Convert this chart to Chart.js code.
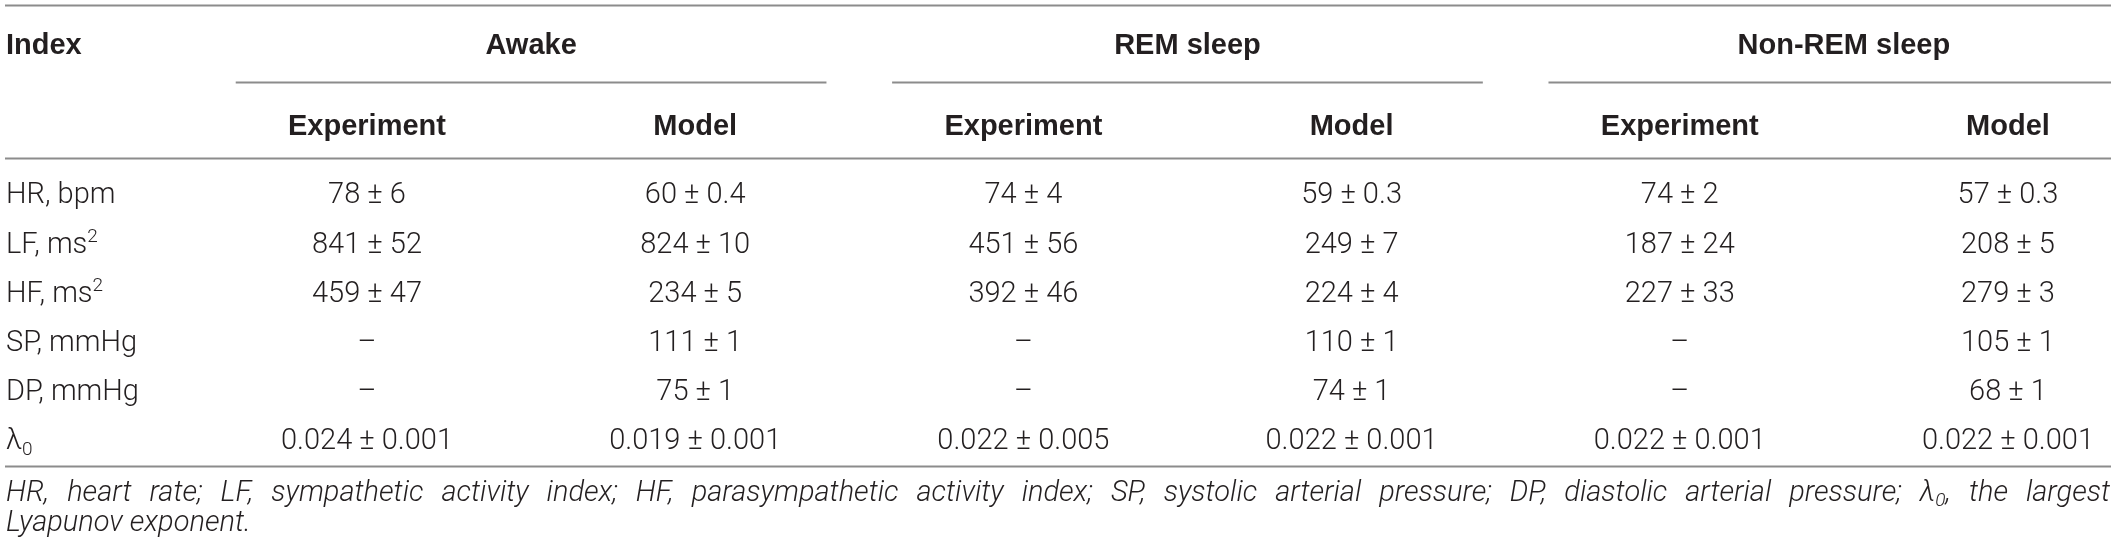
<!DOCTYPE html>
<html>
<head>
<meta charset="utf-8">
<script src="https://cdn.jsdelivr.net/npm/chart.js@4.4.1/dist/chart.umd.min.js"></script>
<style>
  html, body { margin: 0; padding: 0; background: #fff; }
  #wrap { width: 2117px; height: 552px; }
</style>
</head>
<body>
<div id="wrap"><canvas id="tableChart"></canvas></div>
<script>
// table content
const states = ["Awake", "REM sleep", "Non-REM sleep"];
const sources = ["Experiment", "Model"];
const indexLabels = ["HR, bpm", "LF, ms^2", "HF, ms^2", "SP, mmHg", "DP, mmHg", "λ_0"];

const awakeExpMean = [78, 841, 459, null, null, 0.024];
const awakeExpSd = [6, 52, 47, null, null, 0.001];
const awakeModelMean = [60, 824, 234, 111, 75, 0.019];
const awakeModelSd = [0.4, 10, 5, 1, 1, 0.001];
const remExpMean = [74, 451, 392, null, null, 0.022];
const remExpSd = [4, 56, 46, null, null, 0.005];
const remModelMean = [59, 249, 224, 110, 74, 0.022];
const remModelSd = [0.3, 7, 4, 1, 1, 0.001];
const nremExpMean = [74, 187, 227, null, null, 0.022];
const nremExpSd = [2, 24, 33, null, null, 0.001];
const nremModelMean = [57, 208, 279, 105, 68, 0.022];
const nremModelSd = [0.3, 5, 3, 1, 1, 0.001];

const footnoteLines = [
  "HR, heart rate; LF, sympathetic activity index; HF, parasympathetic activity index; SP, systolic arterial pressure; DP, diastolic arterial pressure; λ_0, the largest",
  "Lyapunov exponent.",
];

const columnMeans = [awakeExpMean, awakeModelMean, remExpMean, remModelMean, nremExpMean, nremModelMean];
const columnSds = [awakeExpSd, awakeModelSd, remExpSd, remModelSd, nremExpSd, nremModelSd];

// layout, in scale units (x: column number, y: row number)
const INDEX_X = -0.1;
const SUBRULE_HALF = 0.9;
const ROW_Y = {
  topRule: -3.82, group: -3.03, subRule: -2.256, source: -1.40,
  headRule: -0.711, bottomRule: 5.55, note1: 6.04, note2: 6.65,
};

const TEXT_COLOR = "#231f20";
const RULE_COLOR = "#8c8c8c";
const FAMILY = 'Roboto, "Liberation Sans", Arial, sans-serif';
const BOLD_FAMILY = '"Liberation Sans", Arial, sans-serif';
const SIZE = 29;
const NOTE_SIZE = 29;

function cellText(mean, sd) {
  if (mean === null) return "–";
  return mean + " ± " + sd;
}

// split "LF, ms^2" / "λ_0" into plain, sup and sub parts
function parseRich(str) {
  const parts = [];
  let buf = "";
  for (let i = 0; i < str.length; i++) {
    const c = str[i];
    if ((c === "^" || c === "_") && i + 1 < str.length) {
      if (buf) parts.push({ t: buf, k: "n" });
      buf = "";
      parts.push({ t: str[i + 1], k: c === "^" ? "sup" : "sub" });
      i++;
    } else {
      buf += c;
    }
  }
  if (buf) parts.push({ t: buf, k: "n" });
  return parts;
}

function fontFor(style, k, size) {
  const s = k === "n" ? size : Math.round(size * 0.66);
  return style.replace("{s}", s + "px");
}

function richWidth(ctx, str, style, size) {
  let w = 0;
  parseRich(str).forEach((p) => {
    ctx.font = fontFor(style, p.k, size);
    w += ctx.measureText(p.t).width;
  });
  return w;
}

function drawRich(ctx, str, x, y, align, style, size) {
  const w = richWidth(ctx, str, style, size);
  let cx = align === "center" ? x - w / 2 : align === "right" ? x - w : x;
  const base = y + size * 0.36;
  ctx.textAlign = "left";
  ctx.textBaseline = "alphabetic";
  parseRich(str).forEach((p) => {
    ctx.font = fontFor(style, p.k, size);
    let dy = 0;
    if (p.k === "sup") dy = -size * 0.38;
    if (p.k === "sub") dy = size * 0.2;
    ctx.fillText(p.t, cx, base + dy);
    cx += ctx.measureText(p.t).width;
  });
}

const tablePlugin = {
  id: "tablePlugin",
  afterDraw(chart) {
    const ctx = chart.ctx;
    const x = chart.scales.x;
    const y = chart.scales.y;
    const area = chart.chartArea;
    const light = "300 {s} " + FAMILY;
    const bold = "bold {s} " + BOLD_FAMILY;
    const italic = "italic 300 {s} " + FAMILY;

    ctx.save();
    ctx.strokeStyle = RULE_COLOR;
    ctx.lineWidth = 1.8;
    const hRule = (x0, x1, v) => {
      const py = Math.round(y.getPixelForValue(v)) + 0.5;
      ctx.beginPath();
      ctx.moveTo(x0, py);
      ctx.lineTo(x1, py);
      ctx.stroke();
    };
    hRule(area.left, area.right, ROW_Y.topRule);
    hRule(area.left, area.right, ROW_Y.headRule);
    hRule(area.left, area.right, ROW_Y.bottomRule);
    states.forEach((s, g) => {
      const c = 1.5 + 2 * g;
      const x0 = Math.max(area.left, x.getPixelForValue(c - SUBRULE_HALF));
      const x1 = Math.min(area.right, x.getPixelForValue(c + SUBRULE_HALF));
      hRule(x0, x1, ROW_Y.subRule);
    });

    ctx.fillStyle = TEXT_COLOR;
    // header rows
    drawRich(ctx, "Index", x.getPixelForValue(INDEX_X), y.getPixelForValue(ROW_Y.group), "left", bold, SIZE);
    states.forEach((s, g) => {
      drawRich(ctx, s, x.getPixelForValue(1.5 + 2 * g), y.getPixelForValue(ROW_Y.group), "center", bold, SIZE);
      sources.forEach((src, j) => {
        drawRich(ctx, src, x.getPixelForValue(1 + 2 * g + j), y.getPixelForValue(ROW_Y.source), "center", bold, SIZE);
      });
    });

    // body rows
    indexLabels.forEach((lab, r) => {
      const py = y.getPixelForValue(r);
      drawRich(ctx, lab, x.getPixelForValue(INDEX_X), py, "left", light, SIZE);
      columnMeans.forEach((means, c) => {
        drawRich(ctx, cellText(means[r], columnSds[c][r]), x.getPixelForValue(c + 1), py, "center", light, SIZE);
      });
    });

    // footnote, first line justified
    footnoteLines.forEach((line, i) => {
      const py = y.getPixelForValue(i === 0 ? ROW_Y.note1 : ROW_Y.note2);
      const words = line.split(" ");
      const widths = words.map((w) => richWidth(ctx, w, italic, NOTE_SIZE));
      ctx.font = fontFor(italic, "n", NOTE_SIZE);
      let gap = ctx.measureText(" ").width;
      let squeeze = 1;
      if (i < footnoteLines.length - 1) {
        const total = widths.reduce((a, b) => a + b, 0);
        const avail = area.right - area.left - 2;
        gap = (avail - total) / (words.length - 1);
        if (gap < 4) {
          squeeze = avail / (total + 4 * (words.length - 1));
          gap = 4;
        }
      }
      ctx.save();
      ctx.translate(area.left + 1, 0);
      ctx.scale(squeeze, 1);
      let cx = 0;
      words.forEach((w, k) => {
        drawRich(ctx, w, cx, py, "left", italic, NOTE_SIZE);
        cx += widths[k] + gap;
      });
      ctx.restore();
    });
    ctx.restore();
  },
};

const ctx = document.getElementById("tableChart").getContext("2d");
const tableChart = new Chart(ctx, {
  type: "scatter",
  data: { datasets: [] },
  options: {
    responsive: true,
    maintainAspectRatio: false,
    animation: false,
    layout: { padding: { left: 5, right: 6, top: 0, bottom: 0 } },
    plugins: {
      legend: { display: false },
      tooltip: { enabled: false },
    },
    scales: {
      x: { type: "linear", display: false, min: -0.103, max: 6.314 },
      y: { type: "linear", display: false, reverse: true, min: -3.923, max: 7.297 },
    },
  },
  plugins: [tablePlugin],
});
</script>
</body>
</html>
